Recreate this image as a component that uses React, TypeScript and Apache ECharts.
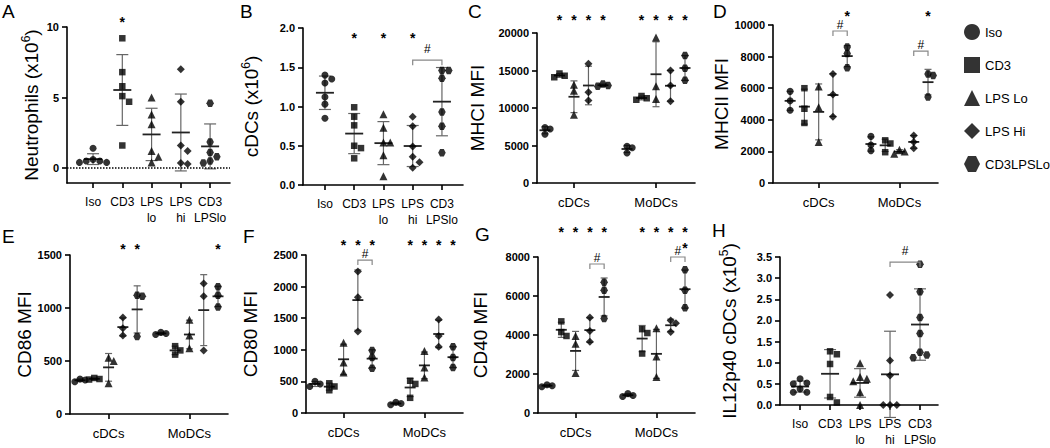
import React, { useEffect, useRef } from "react";
import * as echarts from "echarts";

const FONT = "'Liberation Sans', Arial, Helvetica, sans-serif";

// ---------- categories ----------
const treatments = ["Iso", "CD3", "LPS Lo", "LPS Hi", "CD3LPSLo"];
const catLabels = ["Iso", "CD3", "LPS\nlo", "LPS\nhi", "CD3\nLPSlo"];
const groupLabels = ["cDCs", "MoDCs"];

// ---------- A: Neutrophils (x10^6) ----------
const neutrophils = [
  [1.4, 0.6, 0.5, 0.5, 0.4, 0.4],
  [9.2, 6.8, 5.8, 5.1, 4.7, 1.6],
  [5.0, 3.8, 3.1, 1.2, 0.8, 0.4],
  [7.0, 4.7, 1.6, 1.2, 0.35, 0.28],
  [4.6, 1.85, 1.1, 0.8, 0.5, 0.36],
];
// ---------- B: cDCs (x10^6) ----------
const cdcCounts = [
  [1.4, 1.35, 1.3, 1.12, 1.03, 0.85],
  [0.99, 0.87, 0.76, 0.5, 0.47, 0.34],
  [0.9, 0.73, 0.54, 0.54, 0.38, 0.11],
  [0.87, 0.75, 0.49, 0.36, 0.29, 0.22],
  [1.46, 1.46, 1.36, 0.93, 0.75, 0.41],
];
// ---------- C: MHCI MFI ----------
const mhciCDCs = [
  [7400, 7200, 6500],
  [14600, 14300, 14100],
  [13100, 12300, 9100],
  [15900, 12100, 11000],
  [13200, 13000, 12900],
];
const mhciMoDCs = [
  [4900, 4700, 4000],
  [11600, 11300, 11100],
  [19400, 12900, 11200],
  [15000, 13000, 10900],
  [17000, 15300, 13700],
];
// ---------- D: MHCII MFI ----------
const mhciiCDCs = [
  [5800, 5200, 4600],
  [6000, 4700, 3800],
  [6100, 4800, 2600],
  [6900, 5600, 4200],
  [8600, 8200, 7300],
];
const mhciiMoDCs = [
  [2950, 2400, 2050],
  [2700, 2500, 1950],
  [2100, 2000, 1850],
  [3000, 2600, 2200],
  [6900, 6800, 5450],
];
// ---------- E: CD86 MFI ----------
const cd86CDCs = [
  [330, 320, 305],
  [340, 330, 325],
  [530, 500, 290],
  [910, 810, 740],
  [1120, 1110, 730],
];
const cd86MoDCs = [
  [770, 760, 750],
  [640, 600, 560],
  [890, 740, 620],
  [1230, 1110, 600],
  [1200, 1120, 1010],
];
// ---------- F: CD80 MFI ----------
const cd80CDCs = [
  [500, 460, 420],
  [470, 420, 360],
  [1110, 800, 640],
  [2240, 1830, 1290],
  [990, 880, 710],
];
const cd80MoDCs = [
  [170, 150, 130],
  [510, 460, 240],
  [980, 720, 560],
  [1480, 1220, 1050],
  [1050, 880, 720],
];
// ---------- G: CD40 MFI ----------
const cd40CDCs = [
  [1450, 1400, 1350],
  [4700, 4150, 3950],
  [3950, 3550, 2050],
  [4900, 4200, 3650],
  [6700, 6300, 4850],
];
const cd40MoDCs = [
  [1000, 900, 850],
  [4300, 4100, 3050],
  [4350, 2900, 1850],
  [4750, 4600, 4150],
  [7350, 6300, 5400],
];
// ---------- H: IL12p40 cDCs (x10^5) ----------
const il12 = [
  [0.62, 0.52, 0.5, 0.38, 0.3, 0.3],
  [1.27, 1.2, 0.97, 0.19, 0.06],
  [0.99, 0.66, 0.62, 0.56, 0.3, 0.0],
  [2.6, 1.05, 0.7, 0, 0, 0],
  [3.33, 2.68, 2.07, 1.69, 1.25, 1.18, 1.12],
];

// significance marks: [group, treatment]
const starsA = [[0, 1]];
const starsB = [[0, 1], [0, 2], [0, 3]];
const starsC = [[0, 1], [0, 2], [0, 3], [0, 4], [1, 1], [1, 2], [1, 3], [1, 4]];
const starsD = [[0, 4], [1, 4]];
const starsE = [[0, 3], [0, 4], [1, 4]];
const starsF = [[0, 2], [0, 3], [0, 4], [1, 1], [1, 2], [1, 3], [1, 4]];
const starsG = [[0, 1], [0, 2], [0, 3], [0, 4], [1, 1], [1, 2], [1, 3], [1, 4]];
// "#" brackets: [group, from treatment, to treatment, level]
const bracketsB = [[0, 3, 4, 1.59]];
const bracketsD = [[0, 3, 4, 9620], [1, 3, 4, 8350]];
const bracketsF = [[0, 3, 4, 2420]];
const bracketsG = [[0, 3, 4, 7640], [1, 3, 4, 8000]];
const bracketsH = [[0, 3, 4, 3.38]];

const GROUP_STEP = 5.66;
const HEX = "path://M25,0L75,0L100,50L75,100L25,100L0,50Z";
const symbols = ["circle", "rect", "triangle", "diamond", HEX];
const symbolSizes = [7, 6.5, 8, 8, 7.5];

type Panel = {
  letter: string; lx: number; ly: number;
  left: number; top: number; width: number; height: number;
  xMin: number; xMax: number; yMin: number; yMax: number; yTicks: number[]; decimals: number;
  name: string; nameGap: number; grouped: boolean; groups: number[][][];
  stars: number[][]; starY: number; extraStars?: number[][]; brackets: number[][]; zeroLine?: boolean;
};

function ticks(min: number, max: number, step: number) {
  const out: number[] = [];
  for (let v = min; v <= max + step * 1e-6; v += step) out.push(Math.round(v * 1000) / 1000);
  return out;
}

const panels: Panel[] = [
  { letter: "A", lx: 2, ly: 2, left: 67, top: 27, width: 163, height: 156, xMin: 0.11, xMax: 5.68, yMin: -1.06, yMax: 10, yTicks: [0, 5, 10], decimals: 0,
    name: "Neutrophils (x10{sup|6})", nameGap: 25, grouped: false, groups: [neutrophils], stars: starsA, starY: 10.6, brackets: [], zeroLine: true },
  { letter: "B", lx: 240, ly: 2, left: 303, top: 28, width: 160, height: 157, xMin: 0.25, xMax: 5.72, yMin: 0, yMax: 2, yTicks: ticks(0, 2, 0.5), decimals: 1,
    name: "cDCs (x10{sup|6})", nameGap: 41, grouped: false, groups: [cdcCounts], stars: starsB, starY: 1.91, brackets: bracketsB },
  { letter: "C", lx: 468, ly: 2, left: 537, top: 33, width: 158, height: 150, xMin: 0.45, xMax: 11.35, yMin: 0, yMax: 20000, yTicks: ticks(0, 20000, 5000), decimals: 0,
    name: "MHCI MFI", nameGap: 50, grouped: true, groups: [mhciCDCs, mhciMoDCs], stars: starsC, starY: 22100, brackets: [] },
  { letter: "D", lx: 713, ly: 2, left: 773, top: 25, width: 165, height: 158, xMin: -0.2, xMax: 11.36, yMin: 0, yMax: 10000, yTicks: ticks(0, 10000, 2000), decimals: 0,
    name: "MHCII MFI", nameGap: 31, grouped: true, groups: [mhciiCDCs, mhciiMoDCs], stars: starsD, starY: 10760, brackets: bracketsD },
  { letter: "E", lx: 2, ly: 227, left: 70, top: 255, width: 158, height: 159, xMin: 0.3, xMax: 11.36, yMin: 0, yMax: 1500, yTicks: ticks(0, 1500, 500), decimals: 0,
    name: "CD86 MFI", nameGap: 33, grouped: true, groups: [cd86CDCs, cd86MoDCs], stars: starsE, starY: 1585, brackets: [] },
  { letter: "F", lx: 243, ly: 227, left: 306, top: 255, width: 157, height: 158, xMin: 0.37, xMax: 11.36, yMin: 0, yMax: 2500, yTicks: ticks(0, 2500, 500), decimals: 0,
    name: "CD80 MFI", nameGap: 46, grouped: true, groups: [cd80CDCs, cd80MoDCs], stars: starsF, starY: 2706, brackets: bracketsF },
  { letter: "G", lx: 475, ly: 225, left: 538, top: 257, width: 157, height: 156, xMin: 0.37, xMax: 11.36, yMin: 0, yMax: 8000, yTicks: ticks(0, 8000, 2000), decimals: 0,
    name: "CD40 MFI", nameGap: 48, grouped: true, groups: [cd40CDCs, cd40MoDCs], stars: starsG, starY: 9450, extraStars: [[1, 4, 8600]], brackets: bracketsG },
  { letter: "H", lx: 712, ly: 221, left: 780, top: 257, width: 158, height: 156, xMin: 0.33, xMax: 5.6, yMin: 0, yMax: 3.5, yTicks: ticks(0, 3.5, 0.5), decimals: 1,
    name: "IL12p40 cDCs (x10{sup|5})", nameGap: 40, grouped: false, groups: [il12], stars: [], starY: 0, brackets: bracketsH },
];

function mean(a: number[]) { return a.reduce((s, v) => s + v, 0) / a.length; }
function sd(a: number[]) {
  const m = mean(a);
  return Math.sqrt(a.reduce((s, v) => s + (v - m) * (v - m), 0) / (a.length - 1));
}

// beeswarm-like horizontal spreading of overlapping points (returns offsets in x units)
function swarm(values: number[], pxPerY: number, pxPerX: number, d: number) {
  const order = values.map((_, i) => i).sort((a, b) => values[b] - values[a]);
  const placed: { dx: number; y: number }[] = [];
  const offs = new Array(values.length).fill(0);
  const cands = [0, 1, -1, 2, -2, 3, -3];
  for (const i of order) {
    const y = values[i] * pxPerY;
    for (const c of cands) {
      const dx = c * d;
      if (placed.every((p) => Math.hypot(p.dx - dx, p.y - y) >= d)) {
        placed.push({ dx, y });
        offs[i] = dx / pxPerX;
        break;
      }
    }
  }
  return offs;
}

function buildOption() {
  const grid: any[] = [], xAxis: any[] = [], yAxis: any[] = [], series: any[] = [], graphic: any[] = [];
  panels.forEach((p, pi) => {
    const pos = (g: number, t: number) => (p.grouped ? g * GROUP_STEP : 0) + t + 1;
    const pxX = p.width / (p.xMax - p.xMin);
    const pxY = p.height / (p.yMax - p.yMin);
    grid.push({ left: p.left, top: p.top, width: p.width, height: p.height });
    const xTicks = p.grouped ? [3, 3 + GROUP_STEP] : [1, 2, 3, 4, 5];
    xAxis.push({
      gridIndex: pi, type: "value", min: p.xMin, max: p.xMax,
      splitLine: { show: false },
      axisLine: { show: true, onZero: false, lineStyle: { color: "#000", width: 1.6 } },
      axisTick: { show: true, length: 5, lineStyle: { color: "#000", width: 1.6 }, customValues: xTicks },
      axisLabel: {
        customValues: xTicks, color: "#000", fontSize: p.grouped ? 13 : 12, fontFamily: FONT, margin: 11, lineHeight: 16,
        showMinLabel: true, showMaxLabel: true, hideOverlap: false,
        formatter: (v: number) => (p.grouped ? (v < 6 ? groupLabels[0] : groupLabels[1]) : catLabels[Math.round(v) - 1]),
      },
    });
    yAxis.push({
      gridIndex: pi, type: "value", min: p.yMin, max: p.yMax,
      splitLine: { show: false },
      axisLine: { show: true, onZero: false, lineStyle: { color: "#000", width: 1.6 } },
      axisTick: { show: true, length: 5, lineStyle: { color: "#000", width: 1.6 }, customValues: p.yTicks },
      axisLabel: {
        customValues: p.yTicks, color: "#000", fontSize: 11, fontWeight: "bold", fontFamily: FONT, margin: 8,
        showMinLabel: true, showMaxLabel: true,
        formatter: (v: number) => v.toFixed(p.decimals),
      },
      name: p.name, nameLocation: "middle", nameRotate: 90, nameGap: p.nameGap,
      nameTextStyle: {
        color: "#000", fontSize: 19, fontFamily: FONT,
        rich: { sup: { fontSize: 12, fontFamily: FONT, color: "#000", verticalAlign: "top", lineHeight: 22 } },
      },
    });

    const ebData: number[][] = [];
    p.groups.forEach((grp, g) => {
      grp.forEach((vals, t) => {
        const x = pos(g, t);
        const offs = swarm(vals, pxY, pxX, p.grouped ? 5.2 : 6.8);
        const s: any = {
          type: "scatter", name: treatments[t], xAxisIndex: pi, yAxisIndex: pi,
          symbol: symbols[t], symbolSize: symbolSizes[t], itemStyle: { color: "#000" },
          data: vals.map((v, k) => [x + offs[k], v]), z: 4, clip: false, silent: true,
        };
        if (p.zeroLine && g === 0 && t === 0) {
          s.markLine = {
            silent: true, symbol: ["none", "none"], label: { show: false },
            lineStyle: { type: "dotted", color: "#000", width: 1.5 }, data: [{ yAxis: 0 }],
          };
        }
        series.push(s);
        const m = mean(vals), sdev = sd(vals);
        ebData.push([x, m, m - sdev, m + sdev]);
      });
    });
    const mw = p.grouped ? 5.5 : 9;
    const cw = p.grouped ? 3.5 : 6;
    series.push({
      type: "custom", xAxisIndex: pi, yAxisIndex: pi, z: 3, silent: true, data: ebData,
      renderItem: (_: any, api: any) => {
        const x = api.value(0);
        const [cx, cm] = api.coord([x, api.value(1)]);
        const cl = api.coord([x, api.value(2)])[1];
        const ch = api.coord([x, api.value(3)])[1];
        const gray = { stroke: "#666", lineWidth: 1.2 };
        return {
          type: "group",
          children: [
            { type: "line", shape: { x1: cx, y1: cl, x2: cx, y2: ch }, style: gray },
            { type: "line", shape: { x1: cx - cw, y1: cl, x2: cx + cw, y2: cl }, style: gray },
            { type: "line", shape: { x1: cx - cw, y1: ch, x2: cx + cw, y2: ch }, style: gray },
            { type: "line", shape: { x1: cx - mw, y1: cm, x2: cx + mw, y2: cm }, style: { stroke: "#222", lineWidth: 1.8 } },
          ],
        };
      },
    });

    const starData = p.stars.map(([g, t]) => [pos(g, t), p.starY]);
    (p.extraStars || []).forEach(([g, t, y]) => starData.push([pos(g, t), y]));
    if (starData.length) {
      series.push({
        type: "custom", xAxisIndex: pi, yAxisIndex: pi, z: 5, silent: true, data: starData,
        renderItem: (_: any, api: any) => {
          const [cx, cy] = api.coord([api.value(0), api.value(1)]);
          return {
            type: "text", x: cx, y: cy + 3,
            style: { text: "*", fontSize: 14, fontWeight: "bold", fontFamily: FONT, fill: "#000", align: "center", verticalAlign: "middle", lineHeight: 12 },
          };
        },
      });
    }
    if (p.brackets.length) {
      const bData = p.brackets.map(([g, t1, t2, y]) => [pos(g, t1), pos(g, t2), y]);
      const hashOff = p.grouped ? 6 : 11;
      series.push({
        type: "custom", xAxisIndex: pi, yAxisIndex: pi, z: 5, silent: true, data: bData,
        encode: { x: [0, 1], y: 2 },
        renderItem: (_: any, api: any) => {
          const [x1, y] = api.coord([api.value(0), api.value(2)]);
          const x2 = api.coord([api.value(1), api.value(2)])[0];
          return {
            type: "group",
            children: [
              { type: "polyline", shape: { points: [[x1, y + 5], [x1, y], [x2, y], [x2, y + 5]] }, style: { stroke: "#888", lineWidth: 1.2, fill: "none" } },
              { type: "text", x: (x1 + x2) / 2, y: y - hashOff, style: { text: "#", fontSize: 12, fontFamily: FONT, fill: "#000", align: "center", verticalAlign: "middle", lineHeight: 11 } },
            ],
          };
        },
      });
    }
    graphic.push({
      type: "text", left: p.lx, top: p.ly,
      style: { text: p.letter, fontSize: 19, fontFamily: FONT, fill: "#000" },
    });
  });

  return {
    animation: false,
    backgroundColor: "#fff",
    grid, xAxis, yAxis, series, graphic,
    legend: {
      orient: "vertical", left: 959, top: 19, itemWidth: 16, itemHeight: 16, itemGap: 17, selectedMode: false,
      data: treatments.map((n, i) => ({ name: n, icon: symbols[i] })),
      textStyle: { fontSize: 13, color: "#000", fontFamily: FONT },
    },
  };
}

export default function App() {
  const ref = useRef<HTMLDivElement>(null);
  useEffect(() => {
    if (!ref.current) return;
    const chart = echarts.init(ref.current, null, { renderer: "svg" });
    chart.setOption(buildOption() as any);
    return () => chart.dispose();
  }, []);
  return (
    <div
      ref={ref}
      style={{ position: "fixed", left: 0, top: 0, width: 1050, height: 448, background: "#fff" }}
    />
  );
}
